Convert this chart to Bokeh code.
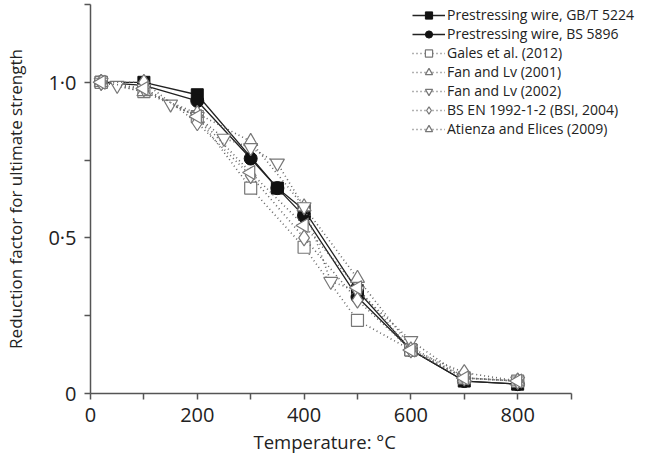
from bokeh.plotting import figure
from bokeh.models import FixedTicker, Legend, LegendItem, Title
from bokeh.embed import file_html
from bokeh.resources import INLINE

# ---- data ----
gbt_T = [20, 100, 200, 350, 400, 500, 600, 700, 800]
gbt_v = [1.0, 1.0, 0.96, 0.66, 0.59, 0.33, 0.14, 0.04, 0.03]

bs_T = [20, 100, 200, 300, 350, 400, 500, 600, 700, 800]
bs_v = [1.0, 0.99, 0.94, 0.755, 0.66, 0.57, 0.31, 0.14, 0.04, 0.03]

gales_T = [20, 100, 200, 300, 400, 500, 600, 700, 800]
gales_v = [1.0, 0.97, 0.89, 0.66, 0.47, 0.235, 0.14, 0.05, 0.04]

fan01_T = [20, 100, 200, 300, 400, 500, 600, 700, 800]
fan01_v = [1.0, 0.97, 0.90, 0.81, 0.60, 0.37, 0.15, 0.05, 0.04]

fan02_T = [20, 50, 100, 150, 200, 250, 300, 350, 400, 450, 500, 600, 700, 800]
fan02_v = [1.0, 0.99, 0.98, 0.93, 0.89, 0.82, 0.79, 0.74, 0.60, 0.36, 0.33, 0.17, 0.05, 0.04]

en_T = [20, 100, 200, 300, 400, 500, 600, 700, 800]
en_v = [1.0, 1.0, 0.87, 0.70, 0.50, 0.30, 0.14, 0.067, 0.04]

ati_T = [20, 100, 200, 300, 400, 500, 600, 700, 800]
ati_v = [1.0, 0.98, 0.89, 0.71, 0.54, 0.34, 0.14, 0.05, 0.04]

x_ticks = [0, 100, 200, 300, 400, 500, 600, 700, 800, 900]
y_ticks = [0, 0.25, 0.5, 0.75, 1.0, 1.25]
y_labels = {0: "0", 0.5: "0·5", 1.0: "1·0"}
x_title = "Temperature: °C"
y_title = "Reduction factor for ultimate strength"

FONT = "Open Sans"

p = figure(width=656, height=463, output_backend="svg", toolbar_location=None,
           x_range=(0, 1060), y_range=(0, 1.25),
           min_border_left=90, min_border_right=0, min_border_top=4, min_border_bottom=70)
p.outline_line_color = None
p.xgrid.visible = False
p.ygrid.visible = False

for ax in (p.xaxis[0], p.yaxis[0]):
    ax.axis_line_color = "#555555"
    ax.axis_line_width = 1.5
    ax.major_tick_line_color = "#555555"
    ax.major_tick_line_width = 1.5
    ax.major_tick_out = 6
    ax.major_tick_in = 0
    ax.minor_tick_line_color = None
    ax.major_label_text_font = FONT
    ax.major_label_text_font_size = "20px"
    ax.major_label_text_color = "#222222"
    ax.axis_label_text_font = FONT
    ax.axis_label_text_font_style = "normal"
    ax.axis_label_text_color = "#222222"

p.xaxis.ticker = FixedTicker(ticks=x_ticks)
p.xaxis.bounds = (0, 900)
p.xaxis.major_label_overrides = {t: (str(t) if t % 200 == 0 and t <= 800 else "") for t in x_ticks}
p.xaxis.major_label_standoff = 8
p.yaxis.ticker = FixedTicker(ticks=y_ticks)
p.yaxis.major_label_overrides = {t: y_labels.get(t, "") for t in y_ticks}
p.yaxis.axis_label = y_title
p.yaxis.axis_label_text_font_size = "17px"
p.yaxis.major_label_standoff = 8
p.yaxis.axis_label_standoff = 18

# x-axis title, centred under the 0-900 axis line rather than the wider frame
xt = Title(text=x_title, align="left", offset=163, text_font=FONT,
           text_font_size="18.5px", text_font_style="normal", text_color="#222222",
           standoff=5)
p.add_layout(xt, "below")

items = []

def series(T, v, marker, label, solid, size=12):
    if solid:
        ln = p.line(T, v, line_color="#222222", line_width=1.3)
        sc = p.scatter(T, v, marker=marker, size=size, fill_color="#111111",
                       line_color="#111111", line_width=1)
    else:
        ln = p.line(T, v, line_color="#666666", line_width=1.6, line_dash="1 3")
        sc = p.scatter(T, v, marker=marker, size=size, fill_color="white",
                       line_color="#777777", line_width=1.2)
    items.append(LegendItem(label=label, renderers=[ln, sc]))
    return sc

series(gbt_T, gbt_v, "square", "Prestressing wire, GB/T 5224", True, 12)
series(bs_T, bs_v, "circle", "Prestressing wire, BS 5896", True, 13)
series(gales_T, gales_v, "square", "Gales et al. (2012)", False, 12)
series(fan01_T, fan01_v, "triangle", "Fan and Lv (2001)", False, 14)
series(fan02_T, fan02_v, "inverted_triangle", "Fan and Lv (2002)", False, 14)
series(en_T, en_v, "diamond", "BS EN 1992-1-2 (BSI, 2004)", False, 16)
ati = series(ati_T, ati_v, "triangle", "Atienza and Elices (2009)", False, 14)
ati.glyph.angle = 1.5708  # left-pointing triangles

legend = Legend(items=items, location=(322, 389 - 7 * 19 - 1))
legend.background_fill_alpha = 0
legend.border_line_color = None
legend.padding = 0
legend.margin = 0
legend.spacing = 0
legend.label_height = 18
legend.glyph_height = 18
legend.glyph_width = 33
legend.label_standoff = 2
legend.label_text_font = FONT
legend.label_text_font_size = "14px"
legend.label_text_color = "#222222"
p.add_layout(legend)

open("out.html", "w").write(file_html(p, INLINE))
